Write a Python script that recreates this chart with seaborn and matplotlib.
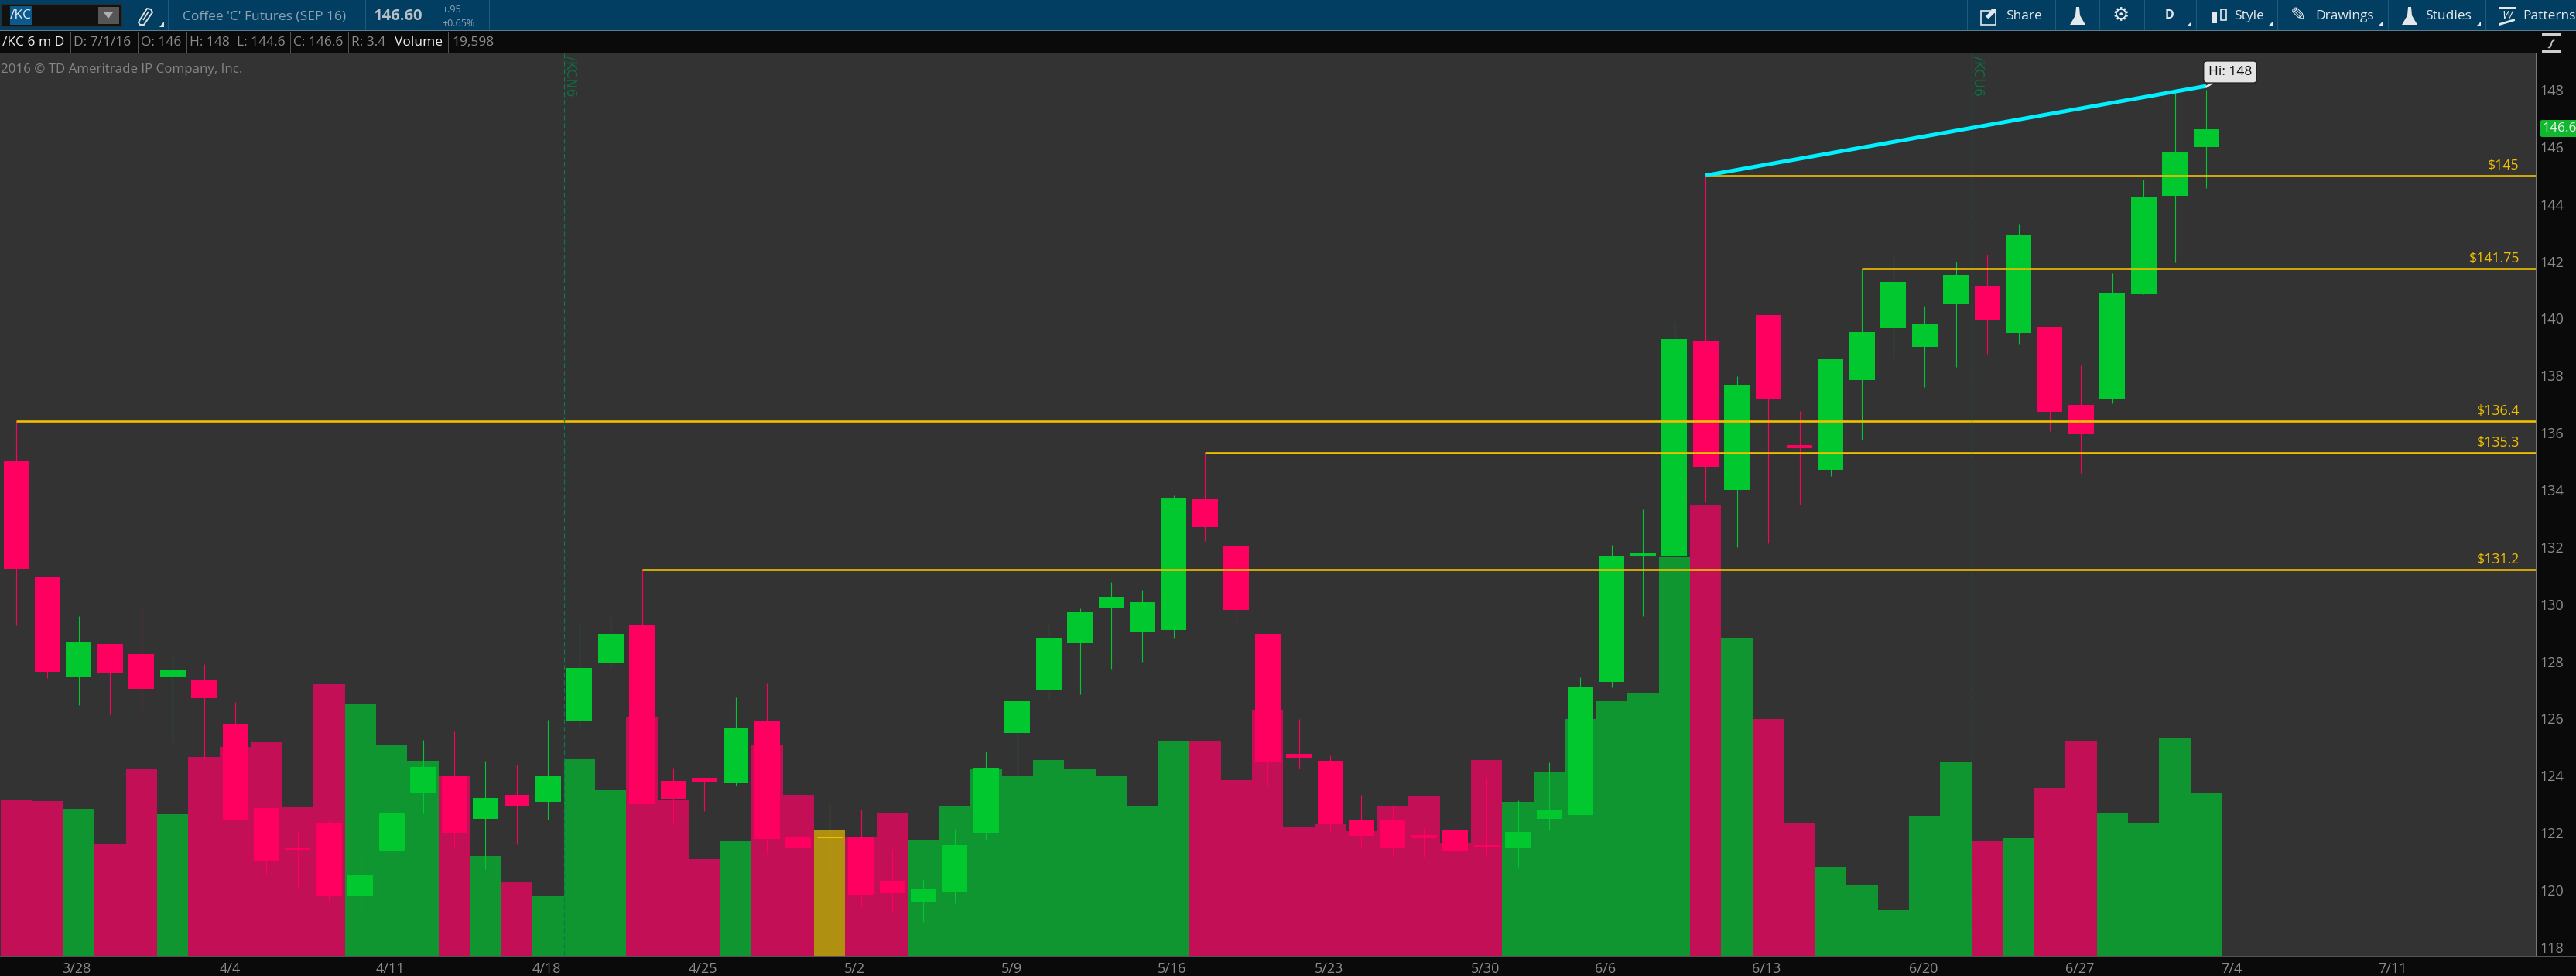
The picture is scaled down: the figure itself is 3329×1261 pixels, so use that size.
import numpy as np
import pandas as pd
import matplotlib
matplotlib.use("Agg")
import matplotlib.pyplot as plt
from matplotlib.patches import Rectangle, Polygon, FancyBboxPatch
import seaborn as sns

# ---------- data ----------
body_top = [135.04,130.96,128.66,128.61,128.26,127.68,127.36,125.83,122.87,121.46,122.36,120.52,122.71,124.30,124.01,123.22,123.33,124.01,127.77,128.97,
            129.26,123.82,123.93,125.66,125.93,121.86,121.88,121.86,120.32,120.06,121.57,124.28,126.60,128.82,129.72,130.27,130.07,133.72,133.67,132.03,
            128.97,124.76,124.53,122.46,122.46,121.92,122.11,121.58,122.03,122.82,127.13,131.67,131.78,139.28,139.23,137.67,140.13,135.57,138.57,139.52,
            141.28,139.82,141.53,141.13,142.94,139.71,136.98,140.87,144.23,145.83,146.62]
body_bot = [131.25,127.65,127.44,127.60,127.05,127.44,126.71,122.45,121.02,121.40,119.79,119.79,121.36,123.38,122.00,122.49,122.95,123.09,125.91,127.93,
            123.00,123.20,123.79,123.74,121.79,121.50,121.84,119.83,119.90,119.60,119.95,122.00,125.50,126.98,128.64,129.89,129.05,129.11,132.70,129.81,
            124.46,124.63,122.32,121.90,121.50,121.81,121.37,121.52,121.49,122.49,122.62,127.29,131.71,131.66,134.79,133.99,137.19,135.45,134.70,137.85,
            139.66,139.00,140.49,139.95,139.49,136.74,135.96,137.19,140.85,144.30,146.00]
highs = [136.40,130.96,129.58,128.61,130.00,128.18,127.90,126.59,122.87,122.09,122.49,121.31,123.65,125.25,125.54,124.53,124.39,125.97,129.35,129.56,
         131.20,124.28,123.93,126.75,127.22,122.55,123.01,122.82,121.44,120.39,122.12,124.85,126.60,129.35,129.85,130.77,130.50,133.82,135.30,132.19,
         128.97,125.98,124.70,123.34,122.95,122.16,122.36,123.93,123.15,124.46,127.46,132.08,133.33,139.87,145.00,137.97,140.13,136.76,138.57,141.75,
         142.20,140.42,141.99,142.23,143.29,139.71,138.35,141.59,144.86,147.89,148.00]
lows = [129.26,127.42,126.47,126.14,126.22,125.18,124.59,122.45,120.58,120.06,119.60,119.07,119.73,122.69,121.50,120.72,121.60,122.46,125.68,127.81,
        123.00,122.36,122.75,123.67,121.24,120.39,120.72,119.40,119.20,118.88,119.53,121.77,123.21,126.63,126.85,127.75,128.00,128.82,132.21,129.16,
        123.67,124.26,122.03,121.50,121.17,121.17,120.78,121.17,120.81,122.12,122.62,127.09,129.58,130.29,133.56,132.00,132.13,133.48,134.50,135.77,
        138.57,137.60,138.30,138.75,139.09,136.07,134.60,137.02,140.85,141.97,144.57]
direction = ["d","d","u","d","d","u","d","d","d","d","d","u","u","u","d","u","d","u","u","u",
             "d","d","d","u","d","d","f","d","d","u","u","u","u","u","u","u","u","u","d","d",
             "d","d","d","d","d","d","d","d","u","u","u","u","u","u","d","u","d","d","u","u",
             "u","u","u","d","u","d","d","u","u","u","u"]
volume = [18882,18700,17750,13448,22595,17116,23998,25221,25764,17931,32783,30338,25493,23546,21780,12044,8965,7154,23817,20014,
          28843,18882,11682,13856,25402,19425,15214,14354,17297,14037,18112,22504,21734,23636,22595,21780,18021,25855,25855,21191,
          29658,15576,15939,15033,18112,19244,13584,23636,18610,22142,28526,30700,31741,48017,54383,38378,28560,16065,10770,8568,
          5534,16898,23324,13923,14221,20230,25883,17255,16065,26240,19598]
level_values = [136.4, 131.2, 135.3, 145.0, 141.75]
level_start = [0, 20, 38, 54, 59]
level_text = ["$136.4", "$131.2", "$135.3", "$145", "$141.75"]
trend_from = (54, 145.0)
trend_to = (70, 148.13)
date_labels = ["3/28","4/4","4/11","4/18","4/25","5/2","5/9","5/16","5/23","5/30","6/6","6/13","6/20","6/27","7/4","7/11"]
date_pos = [1.93,6.84,11.95,16.95,21.96,26.8,31.82,36.94,41.95,46.95,50.8,55.95,60.95,65.96,70.8,75.95]
price_ticks = list(range(118, 150, 2))
expiry_pos = [17.5, 62.5]
expiry_text = ["/KCN6", "/KCU6"]

W, H = 3330, 1261
BG, BLACK, BLUE = "#333333", "#0a0a0a", "#023e62"
GREY, LGREY = "#8c8c8c", "#a8a8a8"
GREEN, RED = "#00c82e", "#ff0060"
VCOL = {"u": "#109630", "d": "#c20f55", "f": "#b09010"}
CCOL = {"u": GREEN, "d": RED, "f": "#e8b800"}
GOLD, CYAN = "#efbf00", "#00f0ff"
FONT = ["Open Sans", "DejaVu Sans"]

sns.set_theme(style="dark", rc={"axes.facecolor": BG, "figure.facecolor": BLACK})
plt.rcParams["font.family"] = FONT

fig = plt.figure(figsize=(W / 100, H / 100), dpi=100)
rect = [0, (H - 1235) / H, 3278 / W, 1166 / H]
ax_v = fig.add_axes(rect)
ax = fig.add_axes(rect, sharex=ax_v)
ax.patch.set_alpha(0)

idx = np.arange(len(volume))
df = pd.DataFrame({"i": idx, "volume": volume, "dir": direction})
sns.barplot(data=df, x="i", y="volume", hue="dir", palette=VCOL, native_scale=True, dodge=False,
            width=1.0, gap=0, legend=False, linewidth=0, saturation=1, ax=ax_v)
ax_v.set_ylim(0, 108800)
ax_v.set_yticks([])
ax_v.set_ylabel("")
ax_v.set_xlabel("")

# candles
colors = [CCOL[d] for d in direction]
ax.vlines(idx, lows, highs, colors=colors, linewidth=0.8, zorder=3)
bh = np.maximum(np.array(body_top) - np.array(body_bot), 0.0)
for i, d, t in zip(idx, direction, body_bot):
    if d == "f":
        ax.hlines(t, i - 0.41, i + 0.41, colors=GOLD, linewidth=0.8, zorder=4)
ax.bar(idx, bh, bottom=body_bot, width=0.81, color=[c if d != "f" else "none" for c, d in zip(colors, direction)],
       linewidth=0, zorder=4)

# horizontal levels and labels
x_left, x_right = -21 / 40.43, (3278 - 21) / 40.43
for v, s, t in zip(level_values, level_start, level_text):
    ax.hlines(v, s, x_right, colors=GOLD, linewidth=1.9, zorder=5)
    ax.annotate(t, xy=(x_right, v), xytext=(-22, 13), textcoords="offset pixels", color=GOLD,
                fontsize=12.8, ha="right", va="center", zorder=6, annotation_clip=False)
ax.plot([trend_from[0], trend_to[0]], [trend_from[1], trend_to[1]], color=CYAN, lw=3.6, zorder=6,
        solid_capstyle="butt")

# expiry markers
for x, t in zip(expiry_pos, expiry_text):
    ax.axvline(x, color="#0b7a4a", lw=0.9, ls=(0, (5, 3)), zorder=5)
    ax.text(x, 149.2, t, rotation=-90, color="#0b6e42", fontsize=12.5, ha="left", va="top",
            family="DejaVu Sans", zorder=5)

# high callout
ax.annotate("Hi: 148", xy=(70, 148.1), xytext=(2882, H - 93), textcoords="figure pixels",
            fontsize=12.5, color="#111111", ha="center", va="center", zorder=8,
            bbox=dict(boxstyle="round,pad=0.35,rounding_size=0.25", fc="#e4e4e4", ec="#202020", lw=1),
            arrowprops=dict(arrowstyle="-", color="#e4e4e4", lw=2, shrinkA=0, shrinkB=0))

# axes scales & ticks
ax.set_xlim(x_left, x_right)
ax.set_ylim(117.70, 149.27)
ax.yaxis.tick_right()
ax.set_yticks(price_ticks)
ax.set_yticklabels([str(p) for p in price_ticks], color=GREY, fontsize=13)
ax.set_xticks(date_pos)
ax.set_xticklabels(date_labels, color=GREY, fontsize=13)
ax.tick_params(axis="y", length=0, pad=3)
ax.tick_params(axis="x", length=0, pad=6)
ax.grid(False); ax_v.grid(False)
ax_v.tick_params(axis="x", labelbottom=False, length=0)
for s in ax.spines.values():
    s.set_visible(False)
for s in ax_v.spines.values():
    s.set_visible(False)

# ---------- window chrome, in pixel coordinates ----------
def R(x, y, w, h, **k):
    fig.add_artist(Rectangle((x / W, 1 - (y + h) / H), w / W, h / H, transform=fig.transFigure, **k))
def T(x, y, s, **k):
    k.setdefault("fontsize", 12.5); k.setdefault("color", LGREY)
    k.setdefault("va", "center")
    fig.text(x / W, 1 - y / H, s, **k)
def P(pts, **k):
    fig.add_artist(Polygon([(x / W, 1 - y / H) for x, y in pts], transform=fig.transFigure, **k))
def V(x, y0, y1, color="#1f5a7e"):
    R(x, y0, 1.2, y1 - y0, fc=color, ec="none")

R(0, 0, W, 39, fc=BLUE, ec="none")
R(0, 39, W, 1.5, fc="#5c7c90", ec="none")
R(0, 40.5, W, 28.5, fc=BLACK, ec="none")
R(3278, 69, 52, 1192, fc=BLACK, ec="none", zorder=-1)
R(0, 1235, W, 1.5, fc="#555555", ec="none")
R(3277.5, 69, 1, 1166, fc="#777777", ec="none")

# symbol box
R(2, 6, 155, 28, fc="#111111", ec="#2c2c2c", lw=1.5)
R(13, 8, 29, 24, fc="#0b5a8e", ec="none")
T(13, 20, "/KC", color="#e8e8e8", fontsize=12.5)
R(127, 9, 27, 22, fc="#565656", ec="none")
P([(134, 16), (146, 16), (140, 24)], fc="#b0b0b0", ec="none")

# paperclip
P([(180, 27), (190, 11), (195, 12), (197, 16), (186, 32), (181, 32), (179, 29)], fc="none", ec="#e0e0e0", lw=1.4)
P([(185, 26), (192, 15)], fc="none", ec="#e0e0e0", lw=1.2)
P([(206, 35), (212, 35), (212, 28)], fc="#e0e0e0", ec="none")

for x in (217, 472, 563, 632):
    V(x, 0, 39)
T(236, 21, "Coffee 'C' Futures (SEP 16)", color="#8da3b1", fontsize=12.5)
T(483, 21, "146.60", color="#b8c0c6", fontsize=14.5, fontweight="bold")
T(571, 13, "+.95", color="#8da3b1", fontsize=9)
T(571, 30, "+0.65%", color="#8da3b1", fontsize=9)

# info bar
items = [(3, "/KC 6 m D", "#eeeeee"), (95, "D: 7/1/16", GREY), (182, "O: 146", GREY), (245, "H: 148", GREY),
         (306, "L: 144.6", GREY), (379, "C: 146.6", GREY), (454, "R: 3.4", GREY), (510, "Volume", "#eeeeee"),
         (584, "19,598", GREY)]
for x, s, c in items:
    T(x, 55, s, color=c, fontsize=12.5)
for x in (91, 178, 241, 302, 375, 450, 506, 579, 643):
    V(x, 41, 69, color="#555555")
T(1, 90, "2016 \u00a9 TD Ameritrade IP Company, Inc.", color="#858585", fontsize=12.2)

# right toolbar
for x in (2542, 2656, 2713, 2771, 2838, 2943, 3086, 3212):
    V(x, 0, 39)
ICON = "#e4e8ea"
def flask(cx):
    P([(cx - 2, 9), (cx + 2, 9), (cx + 3, 20), (cx + 10, 32), (cx - 10, 32), (cx - 3, 20)], fc=ICON, ec="none")
def corner(x):
    P([(x, 34), (x + 6, 34), (x + 6, 28)], fc=ICON, ec="none")

R(2560, 14, 19, 18, fc="none", ec=ICON, lw=1.2)
T(2563, 18, "\u2b08", family="DejaVu Sans", color=ICON, fontsize=16)
T(2592, 21, "Share", color=ICON, fontsize=12.5)
flask(2685)
T(2741, 20, "\u2699", family="DejaVu Sans", color=ICON, fontsize=18, ha="center")
T(2804, 20, "D", color=ICON, fontsize=11.5, fontweight="bold", ha="center")
corner(2826)
R(2859, 16, 6, 14, fc=ICON, ec="none"); R(2870, 12, 7, 14, fc="none", ec=ICON, lw=1.2)
T(2887, 21, "Style", color=ICON, fontsize=12.5)
corner(2931)
T(2970, 20, "\u270e", family="DejaVu Sans", color=ICON, fontsize=18, ha="center")
T(2992, 21, "Drawings", color=ICON, fontsize=12.5)
corner(3073)
flask(3114)
T(3134, 21, "Studies", color=ICON, fontsize=12.5)
corner(3200)
R(3230, 9, 21, 2.5, fc=ICON, ec="none")
T(3240, 20, "W", color=ICON, fontsize=11, ha="center", style="italic")
P([(3230, 30), (3250, 24), (3250, 27), (3230, 33)], fc=ICON, ec="none")
T(3260, 21, "Patterns", color=ICON, fontsize=12.5)

# price-axis icon and last-price tag
R(3285, 43, 25, 3.5, fc="#cfcfcf", ec="none"); R(3285, 64, 25, 3.5, fc="#cfcfcf", ec="none")
T(3297, 55, "\u223d", family="DejaVu Sans", color="#cfcfcf", fontsize=15, ha="center", rotation=60)
fig.add_artist(FancyBboxPatch((3283 / W, 1 - 177 / H), 50 / W, 22 / H,
               boxstyle="round,pad=0,rounding_size=0.001", transform=fig.transFigure, fc="#0fb82e", ec="none"))
T(3285, 166, "146.6", color="#f2f2f2", fontsize=12.5)

fig.savefig("out.png", dpi=100, facecolor=BLACK)
